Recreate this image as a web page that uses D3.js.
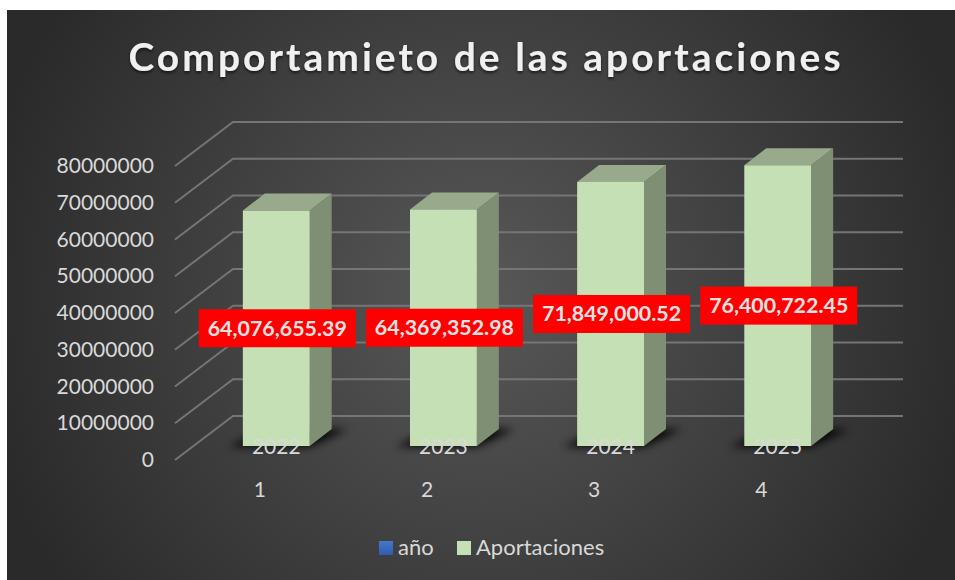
<!DOCTYPE html>
<html>
<head>
<meta charset="utf-8">
<script src="https://cdn.jsdelivr.net/npm/d3@7"></script>
<style>
html, body { margin: 0; padding: 0; background: #fff; }
svg { display: block; font-family: Lato, sans-serif; }
</style>
</head>
<body>
<div id="chart"></div>
<script>
var categories = ["1", "2", "3", "4"];
var years = ["2022", "2023", "2024", "2025"];
var aportaciones = [64076655.39, 64369352.98, 71849000.52, 76400722.45];
var valueLabels = ["64,076,655.39", "64,369,352.98", "71,849,000.52", "76,400,722.45"];
var yTicks = [0, 10000000, 20000000, 30000000, 40000000, 50000000, 60000000, 70000000, 80000000];
var legendItems = ["año", "Aportaciones"];

function init() {
    var w = 955;
    var h = 580;

    // 3d offsets of the fake perspective
    var wallDx = 58, wallDy = -44;
    var barDx = 22, barDy = -17;
    var barShift = 30; // front of the bars sits below the back wall

    var svg = d3.select("#chart")
        .append("svg")
        .attr("width", w)
        .attr("height", h);

    var defs = svg.append("defs");

    var bg = defs.append("radialGradient")
        .attr("id", "bg")
        .attr("gradientUnits", "userSpaceOnUse")
        .attr("cx", 481).attr("cy", 295).attr("r", 510);
    bg.append("stop").attr("offset", "0").attr("stop-color", "#585858");
    bg.append("stop").attr("offset", "1").attr("stop-color", "#2a2a2a");

    var blue = defs.append("linearGradient")
        .attr("id", "blue")
        .attr("x1", 0).attr("y1", 0).attr("x2", 0).attr("y2", 1);
    blue.append("stop").attr("offset", "0").attr("stop-color", "#4a76c6");
    blue.append("stop").attr("offset", "1").attr("stop-color", "#2f5cb0");

    defs.append("filter").attr("id", "blur")
        .attr("x", "-30%").attr("y", "-60%").attr("width", "160%").attr("height", "220%")
        .append("feGaussianBlur").attr("stdDeviation", 4);

    defs.append("filter").attr("id", "titleShadow")
        .append("feDropShadow")
        .attr("dx", 0).attr("dy", 2).attr("stdDeviation", 1.5)
        .attr("flood-color", "#000").attr("flood-opacity", 0.6);

    // background panel
    svg.append("rect")
        .attr("x", 7).attr("y", 10)
        .attr("width", w - 7).attr("height", h - 10)
        .attr("fill", "url(#bg)");

    var xScale = d3.scaleBand()
        .domain(categories)
        .range([176, 878])
        .paddingInner(0.6)
        .paddingOuter(0.4);

    var yScale = d3.scaleLinear()
        .domain([0, 80000000])
        .range([416, 122]);

    // gridlines: left wall + back wall
    svg.append("g").selectAll("path")
        .data(yTicks)
        .join("path")
        .attr("d", function(d) {
            var y = yScale(d);
            return "M" + (233 - wallDx) + "," + (y - wallDy) + "L233," + y + "L903," + y;
        })
        .attr("fill", "none")
        .attr("stroke", "#757575")
        .attr("stroke-width", 2);

    // y axis labels
    var yAxis = d3.axisLeft(d3.scaleLinear().domain(yScale.domain()).range([416 - wallDy, 122 - wallDy]))
        .tickValues(yTicks)
        .tickSize(0)
        .tickPadding(0)
        .tickFormat(d3.format("d"));

    var yG = svg.append("g")
        .attr("transform", "translate(154,0)")
        .call(yAxis);
    yG.select(".domain").remove();
    yG.selectAll("text")
        .attr("fill", "#d9d9d9")
        .attr("font-size", 21)
        .style("font-family", "Lato, sans-serif");

    var bars = svg.append("g").selectAll("g")
        .data(aportaciones)
        .join("g");

    function left(i) { return xScale(categories[i]); }
    function bw() { return xScale.bandwidth(); }
    var base = yScale(0) + barShift;
    function top(d) { return yScale(d) + barShift; }

    // floor shadow
    bars.append("path")
        .attr("d", function(d, i) {
            var x = left(i);
            return "M" + (x - 14) + "," + (base + 1) + "L" + (x + bw()) + "," + (base + 1) +
                "L" + (x + bw() + barDx + 16) + "," + (base + barDy) +
                "L" + (x + barDx) + "," + (base + barDy) + "Z";
        })
        .attr("fill", "#000")
        .attr("opacity", 0.9)
        .attr("filter", "url(#blur)");

    // side face
    bars.append("path")
        .attr("d", function(d, i) {
            var x = left(i) + bw();
            return "M" + x + "," + top(d) + "L" + (x + barDx) + "," + (top(d) + barDy) +
                "L" + (x + barDx) + "," + (base + barDy) + "L" + x + "," + base + "Z";
        })
        .attr("fill", "#7f8f73");

    // top face
    bars.append("path")
        .attr("d", function(d, i) {
            var x = left(i);
            return "M" + x + "," + top(d) + "L" + (x + barDx) + "," + (top(d) + barDy) +
                "L" + (x + bw() + barDx) + "," + (top(d) + barDy) + "L" + (x + bw()) + "," + top(d) + "Z";
        })
        .attr("fill", "#98aa8b");

    // front face
    bars.append("rect")
        .attr("x", function(d, i) { return left(i); })
        .attr("y", function(d) { return top(d); })
        .attr("width", bw())
        .attr("height", function(d) { return base - top(d); })
        .attr("fill", "#c5e0b4");

    // year labels sit on the base of the bars
    svg.append("g").selectAll("text")
        .data(years)
        .join("text")
        .attr("x", function(d, i) { return left(i) + bw() / 2; })
        .attr("y", 454)
        .attr("text-anchor", "middle")
        .attr("font-size", 21)
        .attr("fill", "#d9d9d9")
        .text(function(d) { return d; });

    // category labels
    svg.append("g").selectAll("text")
        .data(categories)
        .join("text")
        .attr("x", function(d) { return xScale(d) + 17; })
        .attr("y", 497)
        .attr("text-anchor", "middle")
        .attr("font-size", 21)
        .attr("fill", "#d9d9d9")
        .text(function(d) { return d; });

    // value labels, centred on the front of each bar
    var labels = svg.append("g").selectAll("g")
        .data(valueLabels)
        .join("g")
        .attr("transform", function(d, i) {
            var cy = (top(aportaciones[i]) + base) / 2;
            return "translate(" + (left(i) + bw() / 2 + 1) + "," + cy + ")";
        });
    labels.append("rect")
        .attr("x", -78.5).attr("y", -19)
        .attr("width", 157).attr("height", 38)
        .attr("fill", "#ff0000");
    labels.append("text")
        .attr("text-anchor", "middle")
        .attr("y", 7.5)
        .attr("font-size", 21.4)
        .attr("font-weight", 700)
        .attr("fill", "#e2e2e2")
        .text(function(d) { return d; });

    // title
    svg.append("text")
        .attr("x", 486)
        .attr("y", 71)
        .attr("text-anchor", "middle")
        .attr("font-size", 39)
        .attr("font-weight", 700)
        .attr("letter-spacing", 3)
        .attr("fill", "#f0f0f0")
        .attr("filter", "url(#titleShadow)")
        .text("Comportamieto de las aportaciones");

    // legend
    var legendX = [379, 457];
    var legendFill = ["url(#blue)", "#c5e0b4"];
    var legend = svg.append("g").selectAll("g")
        .data(legendItems)
        .join("g")
        .attr("transform", function(d, i) { return "translate(" + legendX[i] + ",541)"; });
    legend.append("rect")
        .attr("width", 14).attr("height", 14)
        .attr("fill", function(d, i) { return legendFill[i]; });
    legend.append("text")
        .attr("x", 19).attr("y", 14)
        .attr("font-size", 22)
        .attr("fill", "#d9d9d9")
        .text(function(d) { return d; });
}
window.onload = init;
</script>
</body>
</html>
